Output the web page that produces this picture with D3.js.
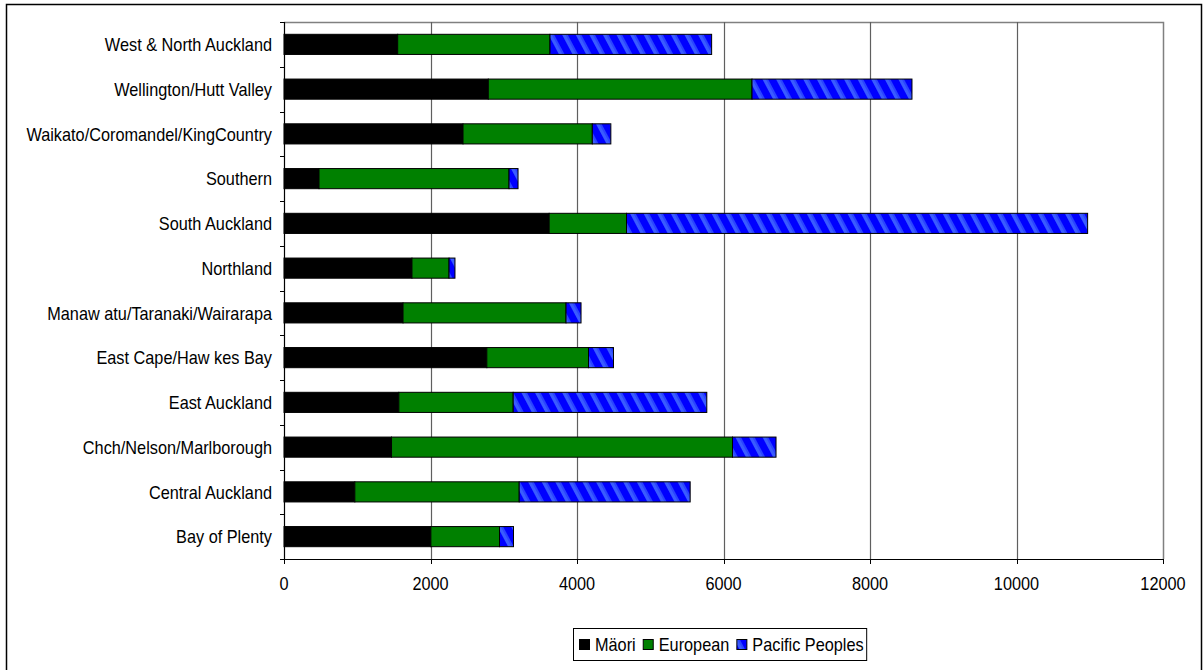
<!DOCTYPE html>
<html>
<head>
<meta charset="utf-8">
<script src="https://cdn.jsdelivr.net/npm/d3@7"></script>
<style>
  html, body { margin: 0; padding: 0; background: #fff; }
  svg { display: block; font-family: "Liberation Sans", Arial, sans-serif; }
</style>
</head>
<body>
<svg id="chart" width="1204" height="670"></svg>
<script>
// Regions, listed top to bottom as drawn
const regions = [
  "West & North Auckland",
  "Wellington/Hutt Valley",
  "Waikato/Coromandel/KingCountry",
  "Southern",
  "South Auckland",
  "Northland",
  "Manaw atu/Taranaki/Wairarapa",
  "East Cape/Haw kes Bay",
  "East Auckland",
  "Chch/Nelson/Marlborough",
  "Central Auckland",
  "Bay of Plenty"
];

// Counts per ethnic group, same order as regions
const maori    = [1552, 2789, 2444,  478, 3620, 1747, 1625, 2769, 1568, 1468,  967, 2005];
const european = [2079, 3600, 1765, 2594, 1056,  506, 2225, 1388, 1561, 4655, 2244,  937];
const pacific  = [2207, 2184,  253,  123, 6295,   81,  205,  341, 2643,  594, 2334,  191];

const seriesNames = ["Mäori", "European", "Pacific Peoples"];
const xTicks = [0, 2000, 4000, 6000, 8000, 10000, 12000];

const svg = d3.select("#chart");

// Diagonal hatch used for the Pacific Peoples segments
const defs = svg.append("defs");
const hatch = defs.append("pattern")
  .attr("id", "hatch")
  .attr("patternUnits", "userSpaceOnUse")
  .attr("width", 12).attr("height", 12)
  .attr("patternTransform", "rotate(-28)");
hatch.append("rect").attr("width", 12).attr("height", 12).attr("fill", "#0000ff");
hatch.append("rect").attr("x", 0).attr("width", 3).attr("height", 12).attr("fill", "#3a5cff");
hatch.append("rect").attr("x", 3).attr("width", 2).attr("height", 12).attr("fill", "#2a44ff");

const fills = ["#000000", "#008000", "url(#hatch)"];
const fontSize = 16.3;
const stretch = 1.15;

// Outer frame
svg.append("rect")
  .attr("x", 6.5).attr("y", 4.5).attr("width", 1195).attr("height", 680)
  .attr("fill", "none").attr("stroke", "#000").attr("stroke-width", 1.5);

const plot = { left: 284, right: 1163, top: 22, bottom: 559 };

const x = d3.scaleLinear().domain([0, 12000]).range([plot.left, plot.right]);
const y = d3.scaleBand().domain(regions).range([plot.top, plot.bottom])
  .paddingInner(0.55).paddingOuter(0.275);

// Plot area border (top & right)
svg.append("path")
  .attr("d", `M${plot.left},${plot.top + 0.5}H${plot.right + 0.5}V${plot.bottom}`)
  .attr("fill", "none").attr("stroke", "#808080").attr("stroke-width", 1.5);

// Vertical gridlines
svg.append("g").selectAll("line")
  .data(xTicks.filter(t => t > 0 && t < 12000))
  .join("line")
  .attr("x1", d => Math.round(x(d)) + 0.5).attr("x2", d => Math.round(x(d)) + 0.5)
  .attr("y1", plot.top).attr("y2", plot.bottom)
  .attr("stroke", "#5f5f5f").attr("stroke-width", 1.2);

// Stacked bars
const rows = regions.map((r, i) => ({ region: r, m: maori[i], e: european[i], p: pacific[i] }));
const stack = d3.stack().keys(["m", "e", "p"]);
const layers = stack(rows);

svg.append("g").selectAll("g")
  .data(layers)
  .join("g")
  .attr("fill", (d, i) => fills[i])
  .selectAll("rect")
  .data(d => d)
  .join("rect")
  .attr("x", d => x(d[0]))
  .attr("y", d => y(d.data.region))
  .attr("width", d => x(d[1]) - x(d[0]))
  .attr("height", y.bandwidth())
  .attr("stroke", "#000").attr("stroke-width", 1);

// Y axis: line, boundary ticks and region labels
const step = y.step();
const boundaries = d3.range(regions.length + 1).map(i => plot.top + i * step);
const yAxis = svg.append("g");
yAxis.append("line")
  .attr("x1", plot.left + 0.5).attr("x2", plot.left + 0.5)
  .attr("y1", plot.top).attr("y2", plot.bottom)
  .attr("stroke", "#000").attr("stroke-width", 1.2);
yAxis.selectAll("line.tick")
  .data(boundaries)
  .join("line").attr("class", "tick")
  .attr("x1", plot.left - 4).attr("x2", plot.left)
  .attr("y1", d => Math.round(d) + 0.5).attr("y2", d => Math.round(d) + 0.5)
  .attr("stroke", "#000");
yAxis.selectAll("text")
  .data(regions)
  .join("text")
  .attr("transform", d => `translate(${plot.left - 12},${y(d) + y.bandwidth() / 2}) scale(1,${stretch})`)
  .attr("text-anchor", "end")
  .attr("dy", "0.36em")
  .attr("font-size", fontSize)
  .attr("fill", "#000")
  .text(d => d);

// X axis
const xAxis = svg.append("g");
xAxis.append("line")
  .attr("x1", plot.left).attr("x2", plot.right)
  .attr("y1", plot.bottom + 0.5).attr("y2", plot.bottom + 0.5)
  .attr("stroke", "#000").attr("stroke-width", 1.2);
xAxis.selectAll("line.tick")
  .data(xTicks)
  .join("line").attr("class", "tick")
  .attr("x1", d => Math.round(x(d)) + 0.5).attr("x2", d => Math.round(x(d)) + 0.5)
  .attr("y1", plot.bottom).attr("y2", plot.bottom + 5)
  .attr("stroke", "#000");
xAxis.selectAll("text")
  .data(xTicks)
  .join("text")
  .attr("transform", d => `translate(${x(d)},${plot.bottom + 24}) scale(1,${stretch})`)
  .attr("text-anchor", "middle")
  .attr("dy", "0.36em")
  .attr("font-size", fontSize)
  .attr("fill", "#000")
  .text(d => d);

// Legend
const legend = svg.append("g");
const legendBox = legend.append("rect")
  .attr("x", 573.5).attr("y", 628.5).attr("height", 32)
  .attr("fill", "#fff").attr("stroke", "#000").attr("stroke-width", 1);
let lx = 579;
const legendY = 644.5;
seriesNames.forEach((name, i) => {
  legend.append("rect")
    .attr("x", lx + 0.5).attr("y", legendY - 5)
    .attr("width", 10).attr("height", 10)
    .attr("fill", fills[i]).attr("stroke", "#000").attr("stroke-width", 1);
  const t = legend.append("text")
    .attr("transform", `translate(${lx + 16},${legendY}) scale(1,${stretch})`)
    .attr("dy", "0.36em")
    .attr("font-size", fontSize)
    .attr("fill", "#000")
    .text(name);
  lx += 16 + t.node().getComputedTextLength() + 7;
});
legendBox.attr("width", lx - 573.5 - 4);
</script>
</body>
</html>
